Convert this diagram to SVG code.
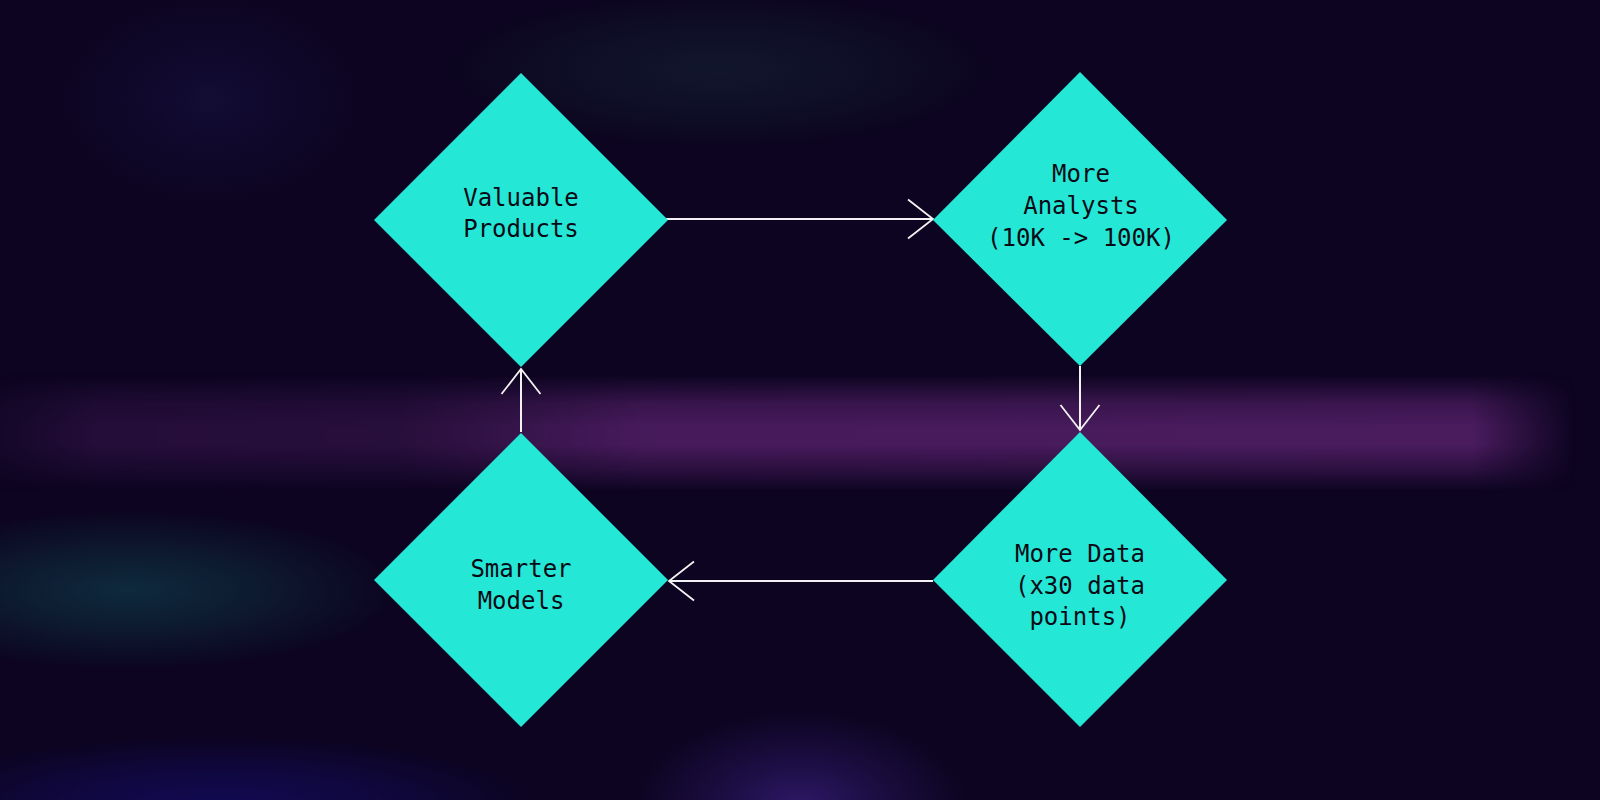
<svg xmlns="http://www.w3.org/2000/svg" width="1600" height="800" viewBox="0 0 1600 800">
  <defs>
    <style>
      .node { fill: #24e8d5; }
      .label { font-family: "DejaVu Sans Mono", "Liberation Mono", monospace; font-size: 24px; fill: #0a0a16; text-anchor: middle; }
      .conn { stroke: #f2f2f2; stroke-width: 2; fill: none; }
    </style>
    <radialGradient id="gTeal"><stop offset="0" stop-color="#0e2a3c" stop-opacity="1"/><stop offset="0.5" stop-color="#0e2a3c" stop-opacity="0.55"/><stop offset="1" stop-color="#0e2a3c" stop-opacity="0"/></radialGradient>
    <radialGradient id="gTop"><stop offset="0" stop-color="#11162c" stop-opacity="1"/><stop offset="0.5" stop-color="#11162c" stop-opacity="0.6"/><stop offset="1" stop-color="#11162c" stop-opacity="0"/></radialGradient>
    <radialGradient id="gTopLeft"><stop offset="0" stop-color="#130c34" stop-opacity="1"/><stop offset="1" stop-color="#130c34" stop-opacity="0"/></radialGradient>
    <radialGradient id="gBlue"><stop offset="0" stop-color="#120a52" stop-opacity="1"/><stop offset="0.5" stop-color="#120a52" stop-opacity="0.6"/><stop offset="1" stop-color="#120a52" stop-opacity="0"/></radialGradient>
    <radialGradient id="gViolet"><stop offset="0" stop-color="#2c1866" stop-opacity="1"/><stop offset="0.45" stop-color="#2c1866" stop-opacity="0.5"/><stop offset="1" stop-color="#2c1866" stop-opacity="0"/></radialGradient>
    <linearGradient id="bandV" x1="0" y1="0" x2="0" y2="1">
      <stop offset="0" stop-color="#4a1c5e" stop-opacity="0"/>
      <stop offset="0.25" stop-color="#4a1c5e" stop-opacity="0.75"/>
      <stop offset="0.45" stop-color="#4a1c5e" stop-opacity="1"/>
      <stop offset="0.6" stop-color="#4a1c5e" stop-opacity="1"/>
      <stop offset="0.8" stop-color="#4a1c5e" stop-opacity="0.55"/>
      <stop offset="1" stop-color="#4a1c5e" stop-opacity="0"/>
    </linearGradient>
    <linearGradient id="bandH" x1="0" y1="0" x2="1" y2="0">
      <stop offset="0" stop-color="#fff" stop-opacity="0.15"/>
      <stop offset="0.06" stop-color="#fff" stop-opacity="0.4"/>
      <stop offset="0.25" stop-color="#fff" stop-opacity="0.45"/>
      <stop offset="0.4" stop-color="#fff" stop-opacity="0.95"/>
      <stop offset="0.92" stop-color="#fff" stop-opacity="1"/>
      <stop offset="0.985" stop-color="#fff" stop-opacity="0"/>
      <stop offset="1" stop-color="#fff" stop-opacity="0"/>
    </linearGradient>
    <mask id="bandMask" maskUnits="userSpaceOnUse" x="0" y="0" width="1600" height="800">
      <rect x="0" y="340" width="1600" height="180" fill="url(#bandH)"/>
    </mask>
    <marker id="arrow" viewBox="-28 -22 31 44" refX="0" refY="0" markerWidth="31" markerHeight="44" markerUnits="userSpaceOnUse" orient="auto">
      <path d="M-25,-19.5 L0,0 L-25,19.5" fill="none" stroke="#f2f2f2" stroke-width="1.8"/>
    </marker>
  </defs>

  <g id="background">
    <rect x="0" y="0" width="1600" height="800" fill="#0c0420"/>
    <ellipse cx="720" cy="70" rx="280" ry="80" fill="url(#gTop)"/>
    <ellipse cx="210" cy="100" rx="160" ry="110" fill="url(#gTopLeft)"/>
    <rect x="0" y="374" width="1600" height="118" fill="url(#bandV)" mask="url(#bandMask)"/>
    <ellipse cx="130" cy="590" rx="270" ry="80" fill="url(#gTeal)"/>
    <ellipse cx="220" cy="805" rx="320" ry="70" fill="url(#gBlue)"/>
    <ellipse cx="800" cy="805" rx="170" ry="95" fill="url(#gViolet)"/>
  </g>

  <g id="connectors">
    <line class="conn" x1="662" y1="219" x2="933" y2="219" marker-end="url(#arrow)"/>
    <line class="conn" x1="1080" y1="366" x2="1080" y2="430" stroke-width="1.6" marker-end="url(#arrow)"/>
    <line class="conn" x1="933" y1="581" x2="669" y2="581" marker-end="url(#arrow)"/>
    <line class="conn" x1="521" y1="432" x2="521" y2="369" stroke-width="1.6" marker-end="url(#arrow)"/>
  </g>

  <g id="node-valuable-products">
    <polygon class="node" points="521,73 668,220 521,367 374,220"/>
    <text class="label" x="521" y="206">Valuable</text>
    <text class="label" x="521" y="237">Products</text>
  </g>

  <g id="node-more-analysts">
    <polygon class="node" points="1080,72 1227,220 1080,366 933,220"/>
    <text class="label" x="1081" y="182">More</text>
    <text class="label" x="1081" y="214">Analysts</text>
    <text class="label" x="1081" y="246">(10K -&gt; 100K)</text>
  </g>

  <g id="node-smarter-models">
    <polygon class="node" points="521,433 668,580 521,727 374,580"/>
    <text class="label" x="521" y="577">Smarter</text>
    <text class="label" x="521" y="609">Models</text>
  </g>

  <g id="node-more-data">
    <polygon class="node" points="1080,432 1227,580 1080,727 933,580"/>
    <text class="label" x="1080" y="562">More Data</text>
    <text class="label" x="1080" y="594">(x30 data</text>
    <text class="label" x="1080" y="625">points)</text>
  </g>
</svg>
